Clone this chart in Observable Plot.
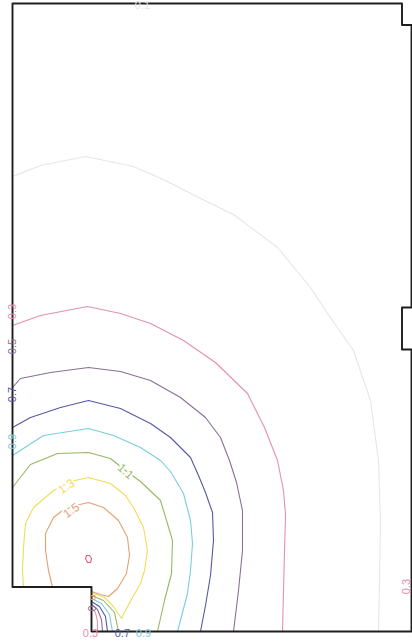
<!DOCTYPE html>
<html>
<head>
<meta charset="utf-8">
<script src="https://cdn.jsdelivr.net/npm/d3@7"></script>
<script src="https://cdn.jsdelivr.net/npm/@observablehq/plot@0.6"></script>
<style>
  html, body { margin: 0; padding: 0; background: #fff; }
  #chart svg { display: block; }
</style>
</head>
<body>
<div id="chart"></div>
<script>
// Contour levels and their colours
const levels = [0.1, 0.3, 0.5, 0.7, 0.9, 1.1, 1.3, 1.5, 1.7];
const levelColors = ["#e9e3ec", "#e58fb0", "#8a6f96", "#5558a0", "#79cde0", "#95b862", "#f0dc58", "#e4a070", "#e0607e"];

// Room outline (plan units)
const outline = [[12,3],[401.5,3],[401.5,24.5],[412,24.5],[411,24.5],[411,307],[401.5,307],[401.5,349],[411,349],[411,631],[91,631],[91,586.5],[12,586.5],[12,3]];

// Contour polylines
const c01 = [[12,176],[40,165],[85,156],[133,166],[165,180],[200,198],[233,214],[277,247],[310,287],[325,310],[353,350],[370,400],[378,460],[380,520],[379,580],[378,631]];
const c03 = [[12,325],[40,315],[87,306],[120,313],[150,323],[183,340],[215,362],[247,393],[264,427],[277,460],[283,490],[285,515],[284,550],[283,590],[282,631]];
const c05 = [[12,387],[20,378],[50,372],[88,367],[120,371],[150,380],[180,397],[205,417],[220,437],[229,460],[236,482],[242,510],[242,550],[238,590],[233,631]];
const c07 = [[12,427],[30,417],[60,407],[88,400],[120,408],[150,423],[170,437],[190,457],[198,475],[205,492],[212,512],[213,540],[210,575],[205,605],[200,631]];
const c09 = [[12,455],[43,435],[88,428],[113,435],[140,447],[160,460],[170,471],[183,493],[190,520],[192,543],[190,570],[187,593],[182,612],[177,631]];
const c11 = [[12,487],[30,464],[57,453],[88,452],[110,458],[125,470],[140,481],[160,500],[166,520],[172,540],[171,573],[164,600],[157,631]];
const c13 = [[23,587],[22,570],[23,547],[25,523],[33,507],[53,490],[70,481],[88,477],[110,483],[125,495],[133,507],[143,527],[147,550],[144,570],[140,583],[132,597],[125,610],[121,618],[113,606],[104,597],[91,592]];
const c15 = [[52,587],[48,570],[45,550],[45,533],[53,517],[62,510],[75,505],[88,502],[103,507],[118,520],[127,537],[129,555],[126,573],[117,588],[108,596],[100,594],[91,591]];
const c17 = [[85,558],[86,555],[89,555],[91,558],[90,562],[87,562],[85,558]];
// Pieces in the corner shadow
const k03 = [[91,607],[95,612],[97,621],[97,631]];
const k05 = [[91,604],[97,609],[101,619],[102,631]];
const k07 = [[91,601],[99,606],[105,616],[107,631]];
const k09 = [[91,598],[101,603],[109,614],[112,631]];
const k11 = [[91,595],[103,600],[114,612],[118,631]];

// Labels
const wallLabels = [
  {text: "0.3", level: 0.3, x: 12, y: 311, rotate: -90},
  {text: "0.5", level: 0.5, x: 12, y: 346, rotate: -90},
  {text: "0.7", level: 0.7, x: 12, y: 394, rotate: -90},
  {text: "0.9", level: 0.9, x: 12, y: 441, rotate: -90},
  {text: "0.3", level: 0.3, x: 90, y: 633, rotate: 0},
  {text: "0.7", level: 0.7, x: 122, y: 633, rotate: 0},
  {text: "0.9", level: 0.9, x: 143, y: 633, rotate: 0},
  {text: "0.1", level: 0.1, x: 142, y: 5, rotate: 0},
  {text: "0.3", level: 0.3, x: 406, y: 586, rotate: -90},
  {text: "0", level: 0.5, x: 92, y: 608, rotate: -90},
  {text: "o", level: 1.5, x: 92, y: 597, rotate: -90}
];
const lineLabels = [
  {text: "1.1", level: 1.1, x: 125, y: 471, rotate: 42},
  {text: "1.3", level: 1.3, x: 66, y: 486, rotate: -35},
  {text: "1.5", level: 1.5, x: 71, y: 510, rotate: -35}
];

const contours = [
  [0.1, c01], [0.3, c03], [0.5, c05], [0.7, c07], [0.9, c09],
  [1.1, c11], [1.3, c13], [1.5, c15], [1.7, c17],
  [0.3, k03], [0.5, k05], [0.7, k07], [0.9, k09], [1.1, k11]
];
const rows = [];
contours.forEach(([level, pts], i) => pts.forEach(([x, y]) => rows.push({seg: i, level, x, y})));
const outlineRows = outline.map(([x, y]) => ({x, y}));

const chart = Plot.plot({
  width: 412,
  height: 642,
  margin: 0,
  x: {domain: [0, 412], axis: null},
  y: {domain: [0, 642], reverse: true, axis: null},
  color: {type: "ordinal", domain: levels, range: levelColors},
  style: {fontFamily: "Liberation Sans, Arial, sans-serif", background: "#fff"},
  marks: [
    Plot.line(rows, {x: "x", y: "y", z: "seg", stroke: d => d.level, strokeWidth: 1.1, curve: "linear"}),
    Plot.text(lineLabels, {x: "x", y: "y", text: "text", fill: d => d.level, rotate: "rotate", fontSize: 12, stroke: "white", strokeWidth: 4}),
    Plot.line(outlineRows, {x: "x", y: "y", stroke: "#1e1e1e", strokeWidth: 1.9}),
    Plot.text(wallLabels, {x: "x", y: "y", text: "text", fill: d => d.level, rotate: "rotate", fontSize: 11})
  ]
});
document.getElementById("chart").appendChild(chart);
</script>
</body>
</html>
